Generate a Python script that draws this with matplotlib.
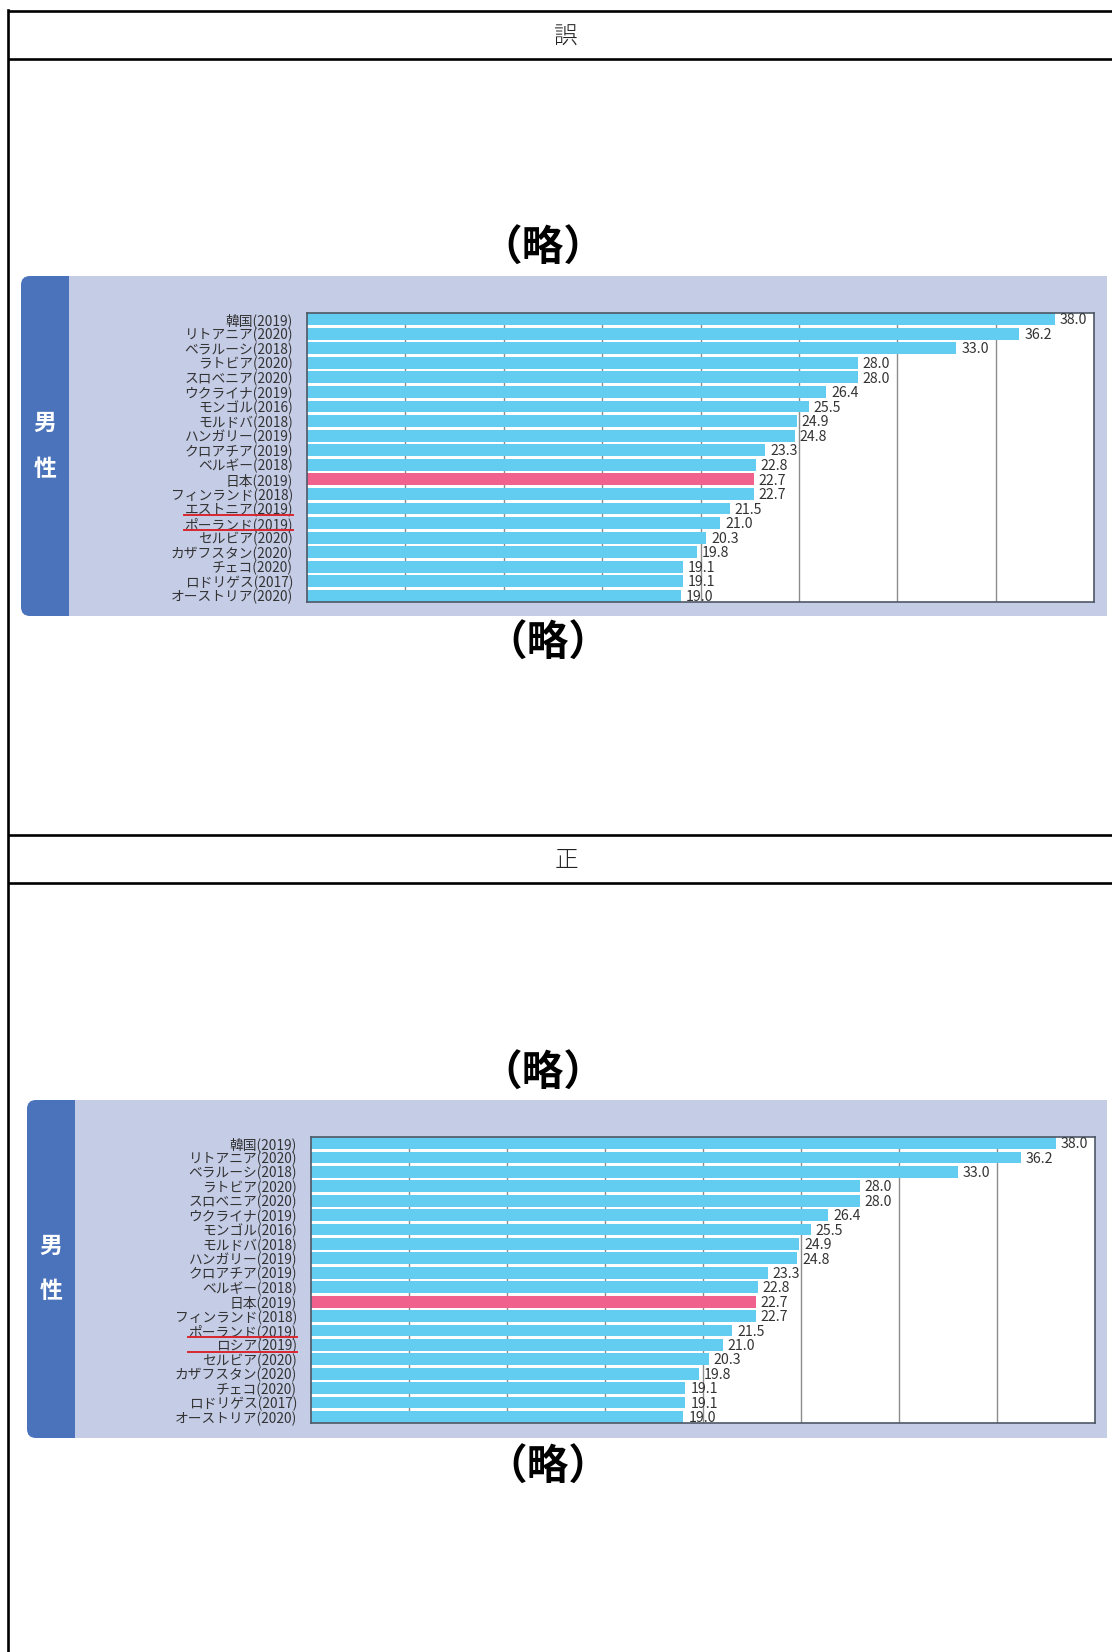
import numpy as np
import matplotlib.pyplot as plt
from matplotlib.patches import FancyBboxPatch, Rectangle
from matplotlib.transforms import blended_transform_factory

plt.rcParams['font.family'] = ['Noto Sans CJK JP', 'DejaVu Sans']

# data
labels_wrong = ['韓国(2019)', 'リトアニア(2020)', 'ベラルーシ(2018)', 'ラトビア(2020)',
                'スロベニア(2020)', 'ウクライナ(2019)', 'モンゴル(2016)', 'モルドバ(2018)',
                'ハンガリー(2019)', 'クロアチア(2019)', 'ベルギー(2018)', '日本(2019)',
                'フィンランド(2018)', 'エストニア(2019)', 'ポーランド(2019)', 'セルビア(2020)',
                'カザフスタン(2020)', 'チェコ(2020)', 'ロドリゲス(2017)', 'オーストリア(2020)']
labels_right = ['韓国(2019)', 'リトアニア(2020)', 'ベラルーシ(2018)', 'ラトビア(2020)',
                'スロベニア(2020)', 'ウクライナ(2019)', 'モンゴル(2016)', 'モルドバ(2018)',
                'ハンガリー(2019)', 'クロアチア(2019)', 'ベルギー(2018)', '日本(2019)',
                'フィンランド(2018)', 'ポーランド(2019)', 'ロシア(2019)', 'セルビア(2020)',
                'カザフスタン(2020)', 'チェコ(2020)', 'ロドリゲス(2017)', 'オーストリア(2020)']
rates = [38.0, 36.2, 33.0, 28.0, 28.0, 26.4, 25.5, 24.9, 24.8, 23.3,
         22.8, 22.7, 22.7, 21.5, 21.0, 20.3, 19.8, 19.1, 19.1, 19.0]
highlight = '日本(2019)'
underlined_wrong = ['エストニア(2019)', 'ポーランド(2019)']
underlined_right = ['ポーランド(2019)', 'ロシア(2019)']

W, H = 1112, 1652
fig = plt.figure(figsize=(W / 100, H / 100), dpi=100)
fig.patch.set_facecolor('white')

# full-figure axes in pixel units for the table and panels
bg = fig.add_axes([0, 0, 1, 1])
bg.set_xlim(0, W)
bg.set_ylim(H, 0)
bg.axis('off')

lw = 1.9
for y in [11, 59, 835, 883]:
    bg.plot([8, W + 10], [y, y], color='black', lw=lw, solid_capstyle='butt')
bg.plot([8, 8], [10, H + 10], color='black', lw=lw)

bg.text(566, 37, '誤', ha='center', va='center', fontsize=17, color='#222222', fontweight='light')
bg.text(566, 860, '正', ha='center', va='center', fontsize=17, color='#222222', fontweight='light')

for (x, y) in [(543, 249), (548, 644), (543, 1074), (548, 1468)]:
    bg.text(x, y, '（略）', ha='center', va='center', fontsize=30, fontweight='bold', color='black')

PANEL = '#C5CCE6'
STRIP = '#4A73BB'
BAR = '#62CDF1'
PINK = '#F0618E'


def draw_chart(panel, strip_right, frame, labels, underlined):
    px0, py0, px1, py1 = panel
    fx0, fy0, fx1, fy1 = frame

    # lavender panel with rounded blue strip on the left
    bg.add_patch(FancyBboxPatch((px0, py0), strip_right + 12 - px0, py1 - py0,
                                boxstyle='round,pad=0,rounding_size=9',
                                fc=STRIP, ec='none'))
    bg.add_patch(Rectangle((strip_right, py0), px1 - strip_right, py1 - py0,
                           fc=PANEL, ec='none'))
    mid = (py0 + py1) / 2
    bg.text((px0 + strip_right) / 2, mid - 23, '男', ha='center', va='center',
            color='white', fontsize=16.5, fontweight='bold')
    bg.text((px0 + strip_right) / 2, mid + 23, '性', ha='center', va='center',
            color='white', fontsize=16.5, fontweight='bold')

    ax = fig.add_axes([fx0 / W, 1 - fy1 / H, (fx1 - fx0) / W, (fy1 - fy0) / H])
    ax.set_facecolor('white')
    n = len(labels)
    ypos = np.arange(n)
    colors = [PINK if lab == highlight else BAR for lab in labels]
    ax.barh(ypos, rates, height=0.82, color=colors, zorder=2)
    ax.set_xlim(0, 40)
    ax.set_ylim(n - 1 + 0.42, -0.42)
    ax.set_xticks(np.arange(5, 40, 5))
    ax.xaxis.grid(True, color='#8C8C8C', lw=1.0, zorder=1)
    ax.set_axisbelow(True)
    ax.tick_params(axis='x', length=0, labelbottom=False)
    ax.set_yticks(ypos)
    ax.set_yticklabels(labels, fontsize=9.9, color='#333333')
    ax.tick_params(axis='y', length=0, pad=10)
    for s in ax.spines.values():
        s.set_color('#4E5866')
        s.set_linewidth(1.2)
    for yv, v in zip(ypos, rates):
        ax.text(v + 0.25, yv + 0.08, f'{v:.1f}', va='center', ha='left',
                fontsize=10.2, color='#333333', zorder=3)

    # red underlines under the corrected labels
    tr = blended_transform_factory(bg.transData, ax.transData)
    label_right = fx0 - 14
    for lab in underlined:
        i = labels.index(lab)
        ax.plot([label_right - 109, label_right], [i + 0.47, i + 0.47], color='#D9262E',
                lw=1.4, transform=tr, clip_on=False, zorder=5)
    return ax


draw_chart((21, 276, 1107, 616), 69, (307, 313, 1094, 602), labels_wrong, underlined_wrong)
draw_chart((27, 1100, 1107, 1438), 75, (311, 1137, 1095, 1423), labels_right, underlined_right)

fig.savefig('out.png', dpi=100)
